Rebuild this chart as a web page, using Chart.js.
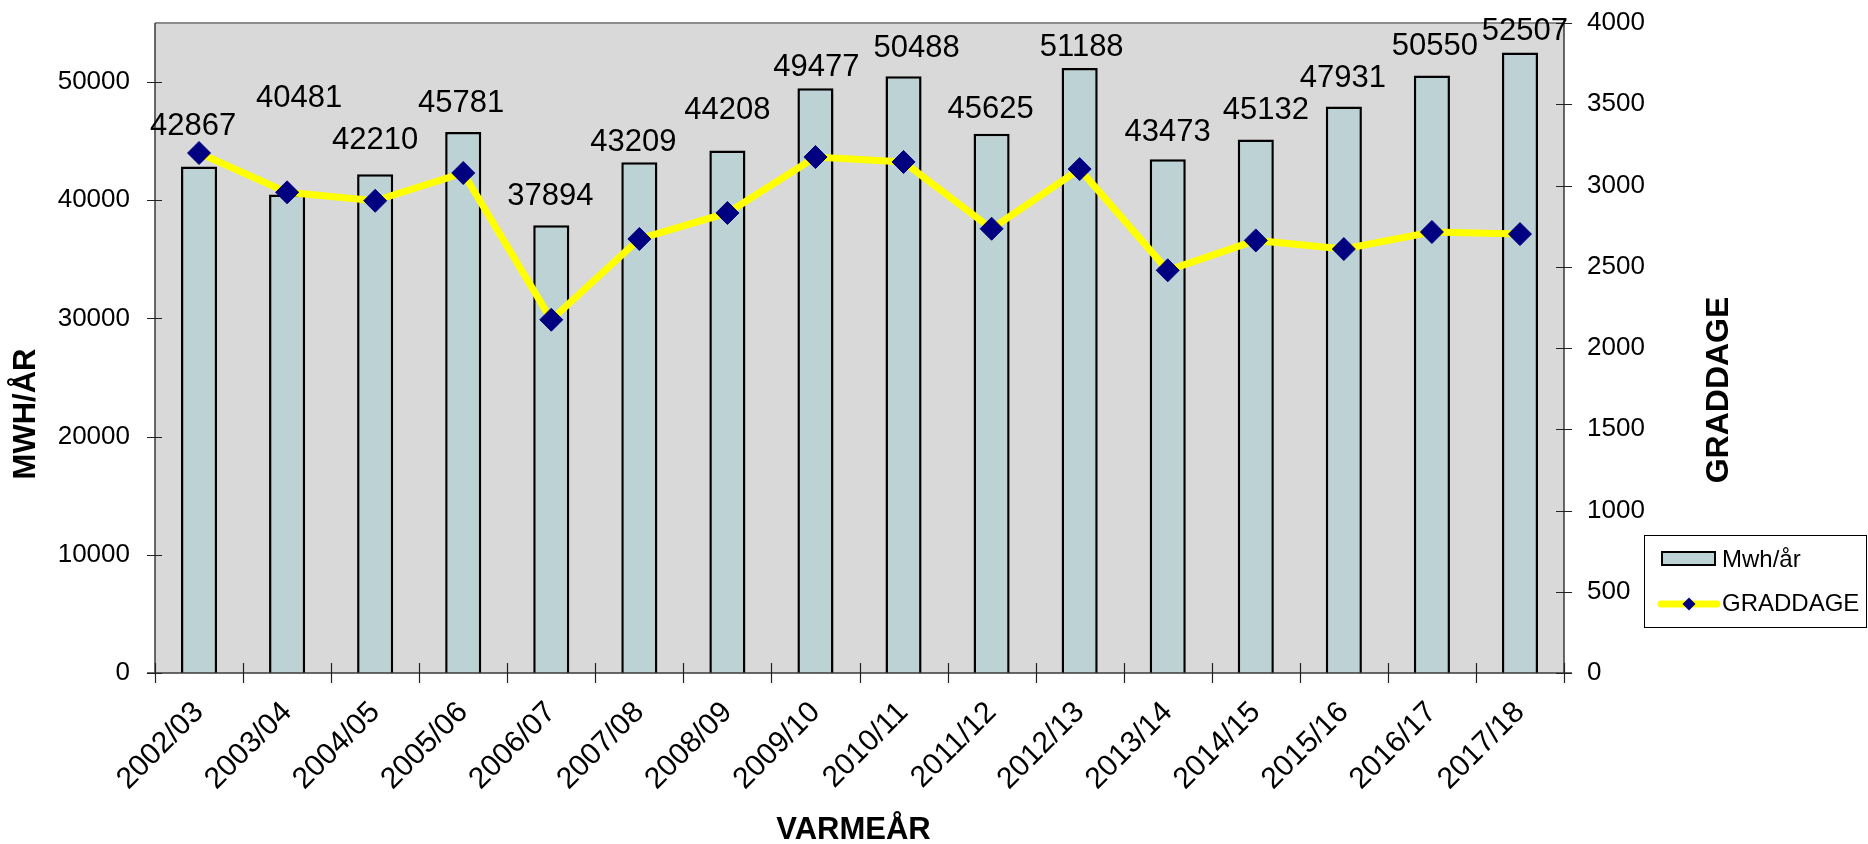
<!DOCTYPE html>
<html>
<head>
<meta charset="utf-8">
<script src="https://cdn.jsdelivr.net/npm/chart.js@4/dist/chart.umd.min.js"></script>
<style>
  html, body { margin: 0; padding: 0; background: #ffffff; }
  #wrap { width: 1868px; height: 844px; position: relative; }
</style>
</head>
<body>
<div id="wrap"><canvas id="c" width="1868" height="844"></canvas></div>
<script>
// ---- data ----
const categories = ["2002/03","2003/04","2004/05","2005/06","2006/07","2007/08","2008/09","2009/10",
                    "2010/11","2011/12","2012/13","2013/14","2014/15","2015/16","2016/17","2017/18"];
const mwhPerYear = [42867, 40481, 42210, 45781, 37894, 43209, 44208, 49477,
                    50488, 45625, 51188, 43473, 45132, 47931, 50550, 52507];
const graddage   = [3200, 2958, 2906, 3077, 2174, 2671, 2831, 3175,
                    3145, 2734, 3101, 2478, 2662, 2609, 2714, 2701];
const seriesNames = ["Mwh/år", "GRADDAGE"];
const axisTitles = { x: "VARMEÅR", y: "MWH/ÅR", y2: "GRADDAGE" };
const leftTicks  = [0, 10000, 20000, 30000, 40000, 50000];
const rightTicks = [0, 500, 1000, 1500, 2000, 2500, 3000, 3500, 4000];
const leftRange  = { min: 0, max: 55000 };
const rightRange = { min: 0, max: 4000 };

// ---- styling ----
const FONT = "'Liberation Sans', Arial, Helvetica, sans-serif";
const BAR_FILL = "#BDD2D4";
const PLOT_BG = "#D9D9D9";
const LINE_COLOR = "#FFFF00";
const MARKER_COLOR = "#000080";
// value-label placement (pixel nudges relative to the bar top, as placed in the original)
const labelLiftPx  = [40, 96, 34, 28, 29, 20, 40, 21, 28, 24, 21, 27, 29, 28, 29, 21];
const labelShiftPx = [-6, 12, 0, -2, -1, -6, 0, 1, 13, -1, 2, 0, 10, -1, 3, 5];

const decor = {
  id: "decor",
  beforeDatasetsDraw(chart) {
    const { ctx, chartArea: a } = chart;
    ctx.save();
    ctx.fillStyle = PLOT_BG;
    ctx.fillRect(a.left, a.top, a.right - a.left, a.bottom - a.top);
    ctx.restore();
  },
  afterDatasetsDraw(chart) {
    const { ctx, chartArea: a, scales } = chart;
    ctx.save();
    // frame
    ctx.strokeStyle = "#8c8c8c";
    ctx.lineWidth = 2;
    ctx.beginPath(); ctx.moveTo(a.left, a.top); ctx.lineTo(a.right, a.top); ctx.stroke();
    ctx.strokeStyle = "#3a3a3a";
    ctx.lineWidth = 1.5;
    ctx.beginPath();
    ctx.moveTo(a.left, a.top); ctx.lineTo(a.left, a.bottom);
    ctx.moveTo(a.right, a.top); ctx.lineTo(a.right, a.bottom);
    ctx.moveTo(a.left - 8, a.bottom); ctx.lineTo(a.right + 8, a.bottom);
    ctx.stroke();
    // tick marks crossing the axes
    ctx.lineWidth = 1.2;
    ctx.strokeStyle = "#222";
    ctx.beginPath();
    scales.y.ticks.forEach(t => {
      const yy = Math.round(scales.y.getPixelForValue(t.value)) + 0.5;
      ctx.moveTo(a.left - 8, yy); ctx.lineTo(a.left + 7, yy);
    });
    scales.y2.ticks.forEach(t => {
      const yy = Math.round(scales.y2.getPixelForValue(t.value)) + 0.5;
      ctx.moveTo(a.right - 8, yy); ctx.lineTo(a.right + 8, yy);
    });
    const n = categories.length;
    const cw = (a.right - a.left) / n;
    for (let i = 0; i <= n; i++) {
      const xx = Math.round(a.left + i * cw) + 0.5;
      ctx.moveTo(xx, a.bottom - 10); ctx.lineTo(xx, a.bottom + 10);
    }
    ctx.stroke();
    ctx.restore();
  },
  afterDraw(chart) {
    const { ctx, chartArea: a } = chart;
    ctx.save();
    // data labels above bars
    const meta = chart.getDatasetMeta(0);
    ctx.fillStyle = "#000";
    ctx.font = "31px " + FONT;
    ctx.textAlign = "center";
    ctx.textBaseline = "middle";
    meta.data.forEach((bar, i) => {
      ctx.fillText(String(mwhPerYear[i]), bar.x + (labelShiftPx[i] || 0), bar.y - (labelLiftPx[i] || 28));
    });
    // axis titles
    ctx.font = "bold 31px " + FONT;
    ctx.textBaseline = "middle";
    ctx.fillText(axisTitles.x, (a.left + a.right) / 2 - 6, 830);
    ctx.save();
    ctx.translate(26, 414); ctx.rotate(-Math.PI / 2);
    ctx.fillText(axisTitles.y, 0, 0);
    ctx.restore();
    ctx.save();
    ctx.font = "bold 32px " + FONT;
    ctx.translate(1719, 390); ctx.rotate(-Math.PI / 2);
    ctx.fillText(axisTitles.y2, 0, 0);
    ctx.restore();
    // legend
    const lx = 1644, ly = 535, lw = 222, lh = 92;
    ctx.fillStyle = "#fff";
    ctx.fillRect(lx, ly, lw, lh);
    ctx.strokeStyle = "#000"; ctx.lineWidth = 1;
    ctx.strokeRect(lx + 0.5, ly + 0.5, lw, lh);
    ctx.fillStyle = BAR_FILL;
    ctx.fillRect(lx + 18, ly + 17, 53, 13);
    ctx.lineWidth = 2; ctx.strokeStyle = "#000";
    ctx.strokeRect(lx + 18, ly + 17, 53, 13);
    ctx.strokeStyle = LINE_COLOR; ctx.lineWidth = 7; ctx.lineCap = "round";
    ctx.beginPath(); ctx.moveTo(lx + 17, ly + 69); ctx.lineTo(lx + 73, ly + 69); ctx.stroke();
    ctx.fillStyle = MARKER_COLOR;
    const dx = lx + 45, dy = ly + 69, r = 6.5;
    ctx.beginPath(); ctx.moveTo(dx - r, dy); ctx.lineTo(dx, dy - r); ctx.lineTo(dx + r, dy); ctx.lineTo(dx, dy + r); ctx.closePath(); ctx.fill();
    ctx.fillStyle = "#000";
    ctx.font = "24px " + FONT;
    ctx.textAlign = "left";
    ctx.fillText(seriesNames[0], lx + 78, ly + 25);
    ctx.fillText(seriesNames[1], lx + 78, ly + 69);
    ctx.restore();
  }
};

const ctx = document.getElementById("c").getContext("2d");
new Chart(ctx, {
  data: {
    labels: categories,
    datasets: [
      {
        type: "bar",
        label: seriesNames[0],
        data: mwhPerYear,
        yAxisID: "y",
        backgroundColor: BAR_FILL,
        borderColor: "#000",
        borderWidth: 2.5,
        borderSkipped: "bottom",
        barPercentage: 0.41,
        categoryPercentage: 1.0,
        order: 2
      },
      {
        type: "line",
        label: seriesNames[1],
        data: graddage,
        yAxisID: "y2",
        borderColor: LINE_COLOR,
        borderWidth: 7,
        tension: 0,
        pointStyle: "rectRot",
        pointRadius: 11.5,
        pointHoverRadius: 11.5,
        pointBackgroundColor: MARKER_COLOR,
        pointBorderColor: MARKER_COLOR,
        pointBorderWidth: 1,
        order: 1
      }
    ]
  },
  options: {
    responsive: false,
    animation: false,
    devicePixelRatio: 1,
    layout: { padding: { top: 23, left: 0, right: 0, bottom: 0 } },
    plugins: { legend: { display: false }, tooltip: { enabled: false } },
    scales: {
      x: {
        type: "category",
        offset: true,
        grid: { display: false, drawTicks: false },
        border: { display: false },
        ticks: {
          autoSkip: false, minRotation: 45, maxRotation: 45,
          color: "#000", font: { family: FONT, size: 30 }, padding: 22
        },
        afterFit(s) { s.height = 171; s.paddingLeft = 0; s.paddingRight = 0; }
      },
      y: {
        position: "left",
        min: leftRange.min, max: leftRange.max,
        grid: { display: false, drawTicks: false },
        border: { display: false },
        afterBuildTicks(s) { s.ticks = leftTicks.map(v => ({ value: v })); },
        ticks: {
          autoSkip: false, color: "#000",
          font: { family: FONT, size: 26 }, padding: 25,
          callback: v => String(v)
        },
        afterFit(s) { s.width = 155; s.paddingTop = 0; s.paddingBottom = 0; }
      },
      y2: {
        position: "right",
        min: rightRange.min, max: rightRange.max,
        grid: { display: false, drawTicks: false },
        border: { display: false },
        afterBuildTicks(s) { s.ticks = rightTicks.map(v => ({ value: v })); },
        ticks: {
          autoSkip: false, color: "#000",
          font: { family: FONT, size: 26 }, padding: 23,
          callback: v => String(v)
        },
        afterFit(s) { s.width = 304; s.paddingTop = 0; s.paddingBottom = 0; }
      }
    }
  },
  plugins: [decor]
});
</script>
</body>
</html>
